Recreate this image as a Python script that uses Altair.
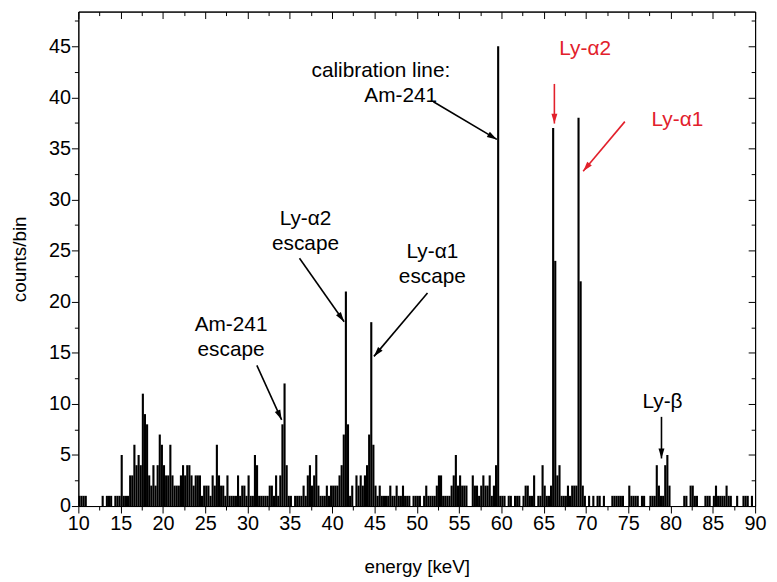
import math
import altair as alt
import pandas as pd

# ---------------- data ----------------
E_START = 10.0
BIN_W = 0.25
# counts per 0.25 keV bin, one row per 5 keV
counts_10_15 = [1, 1, 1, 1, 0, 0, 0, 0, 0, 0, 0, 1, 0, 1, 1, 1, 0, 1, 1, 1]
counts_15_20 = [5, 1, 1, 1, 3, 3, 6, 4, 5, 4, 11, 9, 8, 3, 2, 4, 2, 4, 7, 6]
counts_20_25 = [4, 3, 3, 6, 3, 2, 2, 2, 3, 4, 3, 4, 4, 3, 2, 3, 3, 3, 1, 2]
counts_25_30 = [2, 2, 1, 3, 2, 6, 3, 2, 2, 1, 3, 1, 1, 1, 1, 3, 1, 2, 2, 1]
counts_30_35 = [3, 1, 1, 5, 4, 1, 1, 1, 1, 1, 2, 2, 1, 3, 1, 3, 8, 12, 4, 1]
counts_35_40 = [1, 0, 1, 1, 1, 1, 2, 1, 3, 4, 2, 3, 5, 2, 1, 1, 1, 2, 1, 2]
counts_40_45 = [2, 2, 2, 3, 4, 7, 21, 8, 1, 2, 0, 3, 2, 3, 2, 3, 4, 7, 18, 6]
counts_45_50 = [2, 1, 2, 1, 1, 1, 1, 2, 1, 1, 2, 1, 1, 2, 1, 1, 1, 0, 1, 1]
counts_50_55 = [1, 1, 0, 1, 2, 1, 1, 1, 1, 2, 3, 3, 1, 1, 1, 1, 2, 3, 5, 2]
counts_55_60 = [3, 2, 2, 2, 0, 0, 3, 2, 2, 1, 2, 3, 2, 2, 3, 1, 2, 4, 45, 1]
counts_60_65 = [1, 1, 0, 1, 1, 0, 1, 1, 1, 0, 1, 2, 2, 1, 1, 3, 0, 1, 1, 4]
counts_65_70 = [2, 1, 1, 2, 37, 24, 3, 4, 1, 1, 1, 2, 1, 2, 2, 2, 38, 22, 2, 1]
counts_70_75 = [0, 1, 0, 1, 0, 1, 1, 0, 1, 0, 0, 0, 1, 1, 1, 1, 1, 1, 0, 0]
counts_75_80 = [2, 1, 1, 1, 1, 0, 1, 1, 0, 0, 1, 1, 1, 4, 2, 1, 1, 4, 5, 2]
counts_80_85 = [0, 0, 0, 0, 0, 0, 1, 1, 0, 2, 2, 1, 1, 0, 0, 0, 1, 1, 1, 0]
counts_85_90 = [1, 2, 1, 1, 1, 1, 2, 1, 1, 0, 0, 1, 0, 0, 1, 1, 1, 0, 1, 0]

# annotation texts (position in keV / counts)
label_text = ["calibration line:", "Am-241", "Ly-\u03b12", "Ly-\u03b11",
              "Ly-\u03b12", "escape", "Ly-\u03b11", "escape",
              "Am-241", "escape", "Ly-\u03b2"]
label_x = [45.76, 48.10, 69.91, 80.81, 36.85, 36.85, 51.85, 51.85, 28.05, 28.05, 79.05]
label_y = [42.58, 40.16, 44.71, 37.83, 28.13, 25.60, 24.83, 22.40, 17.75, 15.23, 10.18]
label_color = ["black", "black", "red", "red", "black", "black", "black", "black",
               "black", "black", "black"]

# arrows (start -> tip, in keV / counts)
arrow_x1 = [51.97, 66.27, 74.60, 36.14, 51.27, 31.10, 78.93]
arrow_y1 = [39.57, 41.32, 37.63, 24.25, 20.85, 13.77, 8.73]
arrow_x2 = [59.47, 66.27, 69.67, 41.42, 44.94, 34.03, 78.93]
arrow_y2 = [35.89, 37.44, 32.78, 18.04, 14.65, 8.44, 4.66]
arrow_color = ["black", "red", "red", "black", "black", "black", "black"]

x_ticks = [10 + 2.5 * i for i in range(33)]
y_ticks = [2.5 * i for i in range(20)]

# ---------------- layout ----------------
W, H = 683, 499
XDOM = [10, 90]
YDOM = [0, 48.4]
FONT = "Liberation Sans"
RED = "#e2202b"

counts = (counts_10_15 + counts_15_20 + counts_20_25 + counts_25_30 + counts_30_35
          + counts_35_40 + counts_40_45 + counts_45_50 + counts_50_55 + counts_55_60
          + counts_60_65 + counts_65_70 + counts_70_75 + counts_75_80 + counts_80_85
          + counts_85_90)
bars = pd.DataFrame({
    "lo": [E_START + i * BIN_W for i in range(len(counts))],
    "hi": [E_START + (i + 1) * BIN_W for i in range(len(counts))],
    "c": counts,
})
bars = bars[bars.c > 0]

px_x = W / (XDOM[1] - XDOM[0])
px_y = H / (YDOM[1] - YDOM[0])
angles = []
for a, b, c, d in zip(arrow_x1, arrow_y1, arrow_x2, arrow_y2):
    dx = (c - a) * px_x
    dy = -(d - b) * px_y
    angles.append(math.degrees(math.atan2(dx, -dy)) % 360)
arrows = pd.DataFrame({"x1": arrow_x1, "y1": arrow_y1, "x2": arrow_x2, "y2": arrow_y2,
                       "col": [RED if c == "red" else "black" for c in arrow_color],
                       "ang": angles})
labels = pd.DataFrame({"x": label_x, "y": label_y, "t": label_text,
                       "col": [RED if c == "red" else "black" for c in label_color]})

major_test = "abs(datum.value % 5) < 0.001"
tick_size = {"condition": {"test": major_test, "value": 7}, "value": 4}

xs = alt.Scale(domain=XDOM, nice=False, zero=False)
ys = alt.Scale(domain=YDOM, nice=False, zero=True)

common_axis = dict(grid=False, domainColor="black", tickColor="black",
                   labelColor="black", titleColor="black", tickWidth=1, domainWidth=1,
                   labelFont=FONT, titleFont=FONT, labelFontSize=20, titleFontSize=19,
                   titleFontWeight="normal", labelOverlap=False, labelFlush=False)

x_axis_main = alt.Axis(values=x_ticks, tickSize=tick_size, orient="bottom",
                       labelExpr=f"{major_test} ? format(datum.value, 'd') : ''",
                       title="energy [keV]", labelPadding=1, titlePadding=24,
                       **common_axis)
y_axis_main = alt.Axis(values=y_ticks, tickSize=tick_size, orient="left",
                       labelExpr=f"{major_test} ? format(datum.value, 'd') : ''",
                       title="counts/bin", labelPadding=1, titlePadding=19,
                       **common_axis)
x_axis_top = alt.Axis(values=x_ticks, tickSize=tick_size, orient="bottom",
                      offset=-H, labels=False, title=None, **common_axis)
y_axis_right = alt.Axis(values=y_ticks, tickSize=tick_size, orient="left",
                        offset=-W, labels=False, title=None, **common_axis)

bar_layer = alt.Chart(bars).mark_bar(color="black").encode(
    x=alt.X("lo:Q", scale=xs, axis=x_axis_main),
    x2="hi:Q",
    y=alt.Y("c:Q", scale=ys, axis=y_axis_main),
    y2=alt.datum(0),
)

rule_layer = alt.Chart(arrows).mark_rule(strokeWidth=1.6).encode(
    x=alt.X("x1:Q", scale=xs, axis=x_axis_top),
    y=alt.Y("y1:Q", scale=ys, axis=y_axis_right),
    x2="x2:Q",
    y2="y2:Q",
    color=alt.Color("col:N", scale=None),
)

head_layer = alt.Chart(arrows).mark_point(
    shape="M0,0L0.3,1L-0.3,1Z", size=400, filled=True, opacity=1, strokeWidth=0
).encode(
    x=alt.X("x2:Q", scale=xs, axis=None),
    y=alt.Y("y2:Q", scale=ys, axis=None),
    angle=alt.Angle("ang:Q", scale=None),
    color=alt.Color("col:N", scale=None),
)

text_layer = alt.Chart(labels).mark_text(
    font=FONT, fontSize=21, align="center", baseline="middle"
).encode(
    x=alt.X("x:Q", scale=xs, axis=None),
    y=alt.Y("y:Q", scale=ys, axis=None),
    text="t:N",
    color=alt.Color("col:N", scale=None),
)

chart = alt.layer(bar_layer, rule_layer, head_layer, text_layer).resolve_axis(
    x="independent", y="independent"
).properties(
    width=W, height=H,
    autosize=alt.AutoSizeParams(type="none"),
    padding={"left": 71, "top": 1, "right": 14, "bottom": 72},
    background="white",
).configure_view(stroke="black", strokeWidth=1)

chart.save("out.html", embed_options={"renderer": "svg", "actions": False})
